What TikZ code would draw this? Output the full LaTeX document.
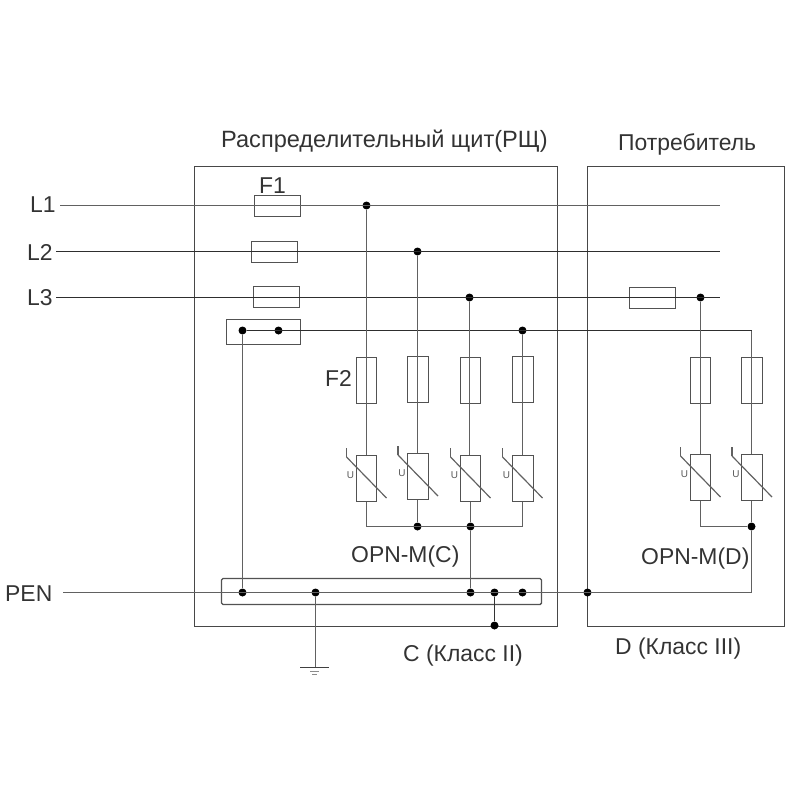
\documentclass[tikz,border=0pt]{standalone}
\usepackage{fontspec}
\setmainfont{Liberation Sans}
\begin{document}
\begin{tikzpicture}[x=1bp,y=-1bp,
  wire/.style={draw=black!62,line width=1.6pt},
  thinwire/.style={draw=black!82,line width=1.1pt},
  encl/.style={draw=black!72,line width=1.3pt},
  elem/.style={draw=black!68,line width=1.4pt,inner sep=0pt,fill=none},
  fuseh/.style={elem,minimum width=46bp,minimum height=21bp},
  fusev/.style={elem,minimum width=20bp,minimum height=46bp},
  varist/.style={elem,minimum width=20bp,minimum height=46bp},
  dotn/.style={circle,fill=black,inner sep=0pt,minimum size=8bp},
  lbl/.style={font=\fontsize{23pt}{25pt}\selectfont,text=black!80,inner sep=0pt,anchor=west},
  ulbl/.style={font=\fontsize{10pt}{10pt}\selectfont,text=black!65,inner sep=0pt}]
\useasboundingbox (0,0) rectangle (800,800);
% enclosures
\node[encl,inner sep=0pt,minimum width=363bp,minimum height=460bp] (shield) at (376,396.5) {};
\node[encl,inner sep=0pt,minimum width=197bp,minimum height=460bp] (consumer) at (686,396.5) {};
\node[elem,rounded corners=1.5pt,minimum width=320bp,minimum height=26bp] (penbar) at (381.5,591.5) {};
\node[elem,minimum width=74bp,minimum height=25bp] (nbar) at (263.5,332) {};
% free ends
\coordinate (l1s) at (60,205.5); \coordinate (l1e) at (720,205.5);
\coordinate (l2s) at (56,251.5); \coordinate (l2e) at (720,251.5);
\coordinate (l3s) at (56,297.5); \coordinate (l3e) at (720,297.5);
\coordinate (pens) at (63,592.5);
\coordinate (gndt) at (315.5,667.5);
\coordinate (ncorner) at (751.5,330.5);
\coordinate (pcorner) at (751.5,592.5);
\coordinate (b1) at (366.5,526.5);
\coordinate (b4) at (522.5,526.5);
\coordinate (b5) at (700.5,526.5);
% dots
\node[dotn] (d1) at (366.5,205.5) {};
\node[dotn] (d2) at (417.5,251.5) {};
\node[dotn] (d3) at (469.5,297.5) {};
\node[dotn] (d4) at (522.5,330.5) {};
\node[dotn] (d5) at (700.5,297.5) {};
\node[dotn] (a1) at (242.5,330.5) {};
\node[dotn] (a2) at (278.5,330.5) {};
\node[dotn] (p1) at (242.5,592.5) {};
\node[dotn] (p2) at (315.5,592.5) {};
\node[dotn] (p3) at (470.5,592.5) {};
\node[dotn] (p4) at (494.5,592.5) {};
\node[dotn] (p5) at (522.5,592.5) {};
\node[dotn] (p6) at (494.5,625.5) {};
\node[dotn] (p7) at (587.5,592.5) {};
\node[dotn] (j1) at (417.5,526.5) {};
\node[dotn] (j2) at (470.5,526.5) {};
\node[dotn] (j3) at (751.5,526.5) {};
% fuses on phases
\node[fuseh] (f1) at (277.5,206) {};
\node[fuseh] (f2) at (274.5,252) {};
\node[fuseh] (f3) at (276.5,297) {};
\node[fuseh] (f4) at (652.5,298) {};
% branch elements
\node[fusev] (ff1) at (366.5,380.5) {};
\node[fusev,minimum width=21bp] (ff2) at (418,379.5) {};
\node[fusev] (ff3) at (470.5,380.5) {};
\node[fusev,minimum width=21bp] (ff4) at (523,379.5) {};
\node[fusev] (ff5) at (700.5,380.5) {};
\node[fusev,minimum width=21bp] (ff6) at (752,380.5) {};
\node[varist] (v1) at (366.5,478.5) {};
\node[varist,minimum width=21bp] (v2) at (418,476.5) {};
\node[varist] (v3) at (470.5,478.5) {};
\node[varist,minimum width=21bp] (v4) at (523,478.5) {};
\node[varist] (v5) at (700.5,477.5) {};
\node[varist,minimum width=21bp] (v6) at (752,477.5) {};
% varistor marks
\foreach \v/\xa/\ya in {v1/346.5/457,v2/398/455,v3/450.5/457,v4/502.5/457,v5/680.5/456,v6/732/456}{
  \draw[wire,line width=1.2pt] (\xa,\ya) -- ++(40,41);
  \draw[wire,line width=1.2pt] (\xa,\ya) -- ++(0,-9);
  \node[ulbl] at (\xa+4,\ya+18) {U};
}
% main wires
\draw[wire] (l1s) -- (l1e);
\draw[thinwire] (l2s) -- (l2e);
\draw[thinwire] (l3s) -- (l3e);
\draw[thinwire] (a1) -- (ncorner);
\draw[wire] (pens) -- (pcorner) -- (j3);
\draw[wire] (a1) -- (p1);
\draw[wire] (p2) -- (gndt);
\draw[wire,draw=black!80] (p4) -- (p6);
\draw[wire] (j2) -- (p3);
% branch wires
\draw[wire] (d1) -- (v1.north -| d1);
\draw[wire] (d2) -- (v2.north -| d2);
\draw[wire] (d3) -- (v3.north -| d3);
\draw[wire] (d4) -- (v4.north -| d4);
\draw[wire] (d5) -- (v5.north -| d5);
\draw[wire] (ncorner) -- (v6.north -| ncorner);
\draw[wire] (v1.south -| b1) -- (b1) -- (b4) -- (v4.south -| b4);
\draw[wire] (v2.south -| j1) -- (j1);
\draw[wire] (v3.south -| j2) -- (j2);
\draw[wire] (v5.south -| b5) -- (b5) -- (j3) -- (v6.south -| j3);
% ground
\draw[draw=black!75,line width=1.2pt] (300,667.5) -- (gndt) -- (329,667.5);
\draw[draw=black!45,line width=1pt] (310,671) -- (319,671);
\draw[draw=black!45,line width=0.8pt] (312,674) -- (317,674);
% labels
\node[lbl,font=\fontsize{23.65pt}{25pt}\selectfont] (t1) at (221,141) {Распределительный щит(РЩ)};
\node[lbl] (t2) at (618,144) {Потребитель};
\node[lbl] (t3) at (30,205) {L1};
\node[lbl] (t4) at (27,252) {L2};
\node[lbl] (t5) at (27,298) {L3};
\node[lbl] (t6) at (5,594) {PEN};
\node[lbl] (t7) at (259,186) {F1};
\node[lbl] (t8) at (325,378) {F2};
\node[lbl] (t9) at (351,557) {OPN-M(C)};
\node[lbl] (t10) at (641,559) {OPN-M(D)};
\node[lbl] (t11) at (403,656) {C (Класс II)};
\node[lbl] (t12) at (615,649) {D (Класс III)};
\end{tikzpicture}
\end{document}
